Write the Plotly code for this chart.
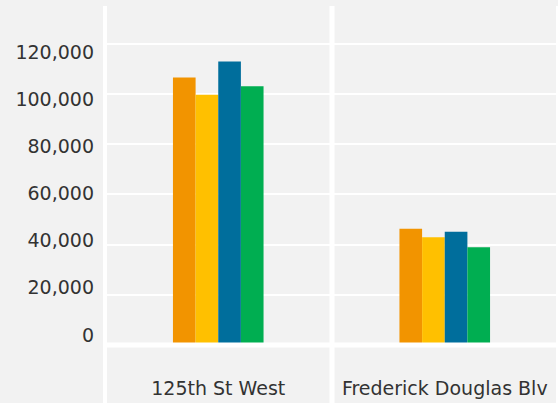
import plotly.graph_objects as go

categories = ["125th St West", "Frederick Douglas Blv"]
series_names = ["Series 1", "Series 2", "Series 3", "Series 4"]
series_values = [
    [106500, 46300],
    [99700, 42900],
    [112900, 45100],
    [103000, 38900],
]
series_colors = ["#F29400", "#FFC000", "#006E9C", "#00AE51"]
tick_values = [0, 20000, 40000, 60000, 80000, 100000, 120000]
tick_labels = ["0", "20,000", "40,000", "60,000", "80,000", "100,000", "120,000"]

BG = "#F2F2F2"
TXT = "#333333"
FONT = "DejaVu Sans"
FS = 19

fig = go.Figure()
for name, vals, col in zip(series_names, series_values, series_colors):
    fig.add_trace(go.Bar(x=categories, y=vals, name=name, marker=dict(color=col, line=dict(width=0)),
                         showlegend=False))

W, H = 558, 403
L, R, T, B = 105, 0, 6, 58
plot_h = H - T - B  # 339

# label scale: 0 at pixel 335, 120000 at 52
lab_ppu = (335 - 52) / 120000
y2_min = -((H - B) - 335) / lab_ppu
y2_max = (335 - T) / lab_ppu

fig.update_layout(
    width=W, height=H,
    margin=dict(l=L, r=R, t=T, b=B, autoexpand=False),
    paper_bgcolor=BG, plot_bgcolor=BG,
    barmode="group", bargap=0.6, bargroupgap=0,
    font=dict(family=FONT, color=TXT, size=FS),
    xaxis=dict(type="category", range=[-0.5, 1.5], showgrid=False, zeroline=False, showline=False,
               ticks="", ticklabelstandoff=30, automargin=False,
               tickfont=dict(size=FS, color=TXT, family=FONT)),
    yaxis=dict(range=[0, 135000], tickvals=tick_values, showticklabels=False, showgrid=True,
               gridcolor="white", gridwidth=2, zeroline=False, showline=False, ticks="",
               automargin=False),
    yaxis2=dict(overlaying="y", side="left", anchor="x", range=[y2_min, y2_max],
                tickvals=tick_values, ticktext=tick_labels, showgrid=False, zeroline=False,
                showline=False, ticks="", ticklabelstandoff=10, automargin=False,
                tickfont=dict(size=FS, color=TXT, family=FONT)),
)

# invisible helper so the label axis renders
fig.add_trace(go.Scatter(x=[categories[0]], y=[0], yaxis="y2", mode="markers",
                         marker=dict(opacity=0), showlegend=False, hoverinfo="skip"))

# divider lines (paper coords)
def px_x(p):
    return (p - L) / (W - L - R)

def px_y(p):
    return ((H - B) - p) / plot_h

shapes = [
    dict(type="line", xref="paper", yref="paper", x0=px_x(105), x1=px_x(105), y0=px_y(6), y1=px_y(403),
         line=dict(color="white", width=4)),
    dict(type="line", xref="paper", yref="paper", x0=px_x(332), x1=px_x(332), y0=px_y(6), y1=px_y(403),
         line=dict(color="white", width=5)),
    dict(type="line", xref="paper", yref="paper", x0=px_x(557), x1=px_x(557), y0=px_y(6), y1=px_y(403),
         line=dict(color="white", width=2)),
    dict(type="line", xref="paper", yref="paper", x0=px_x(107), x1=px_x(558), y0=px_y(345), y1=px_y(345),
         line=dict(color="white", width=5)),
]
fig.update_layout(shapes=shapes)

fig.write_html("out.html", config={"displayModeBar": False},
               post_script="document.body.style.margin='0';document.body.style.overflow='hidden';")
